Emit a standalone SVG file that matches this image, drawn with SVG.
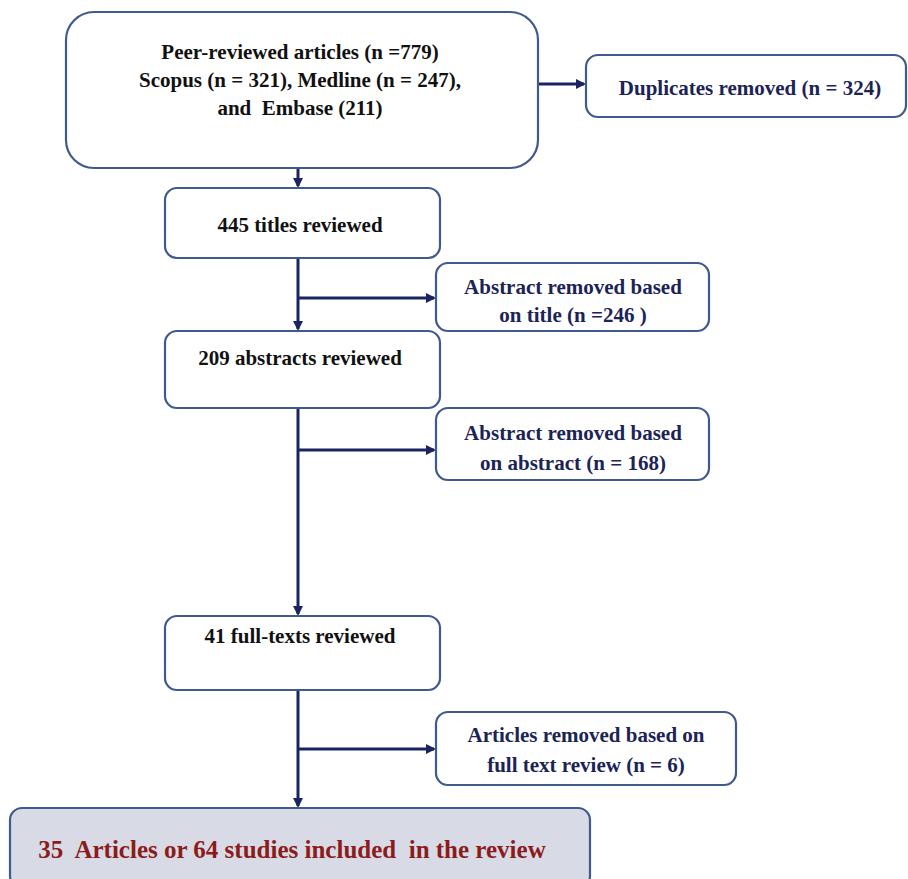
<svg xmlns="http://www.w3.org/2000/svg" width="908" height="879" viewBox="0 0 908 879">
<defs>
<marker id="ah" markerWidth="10" markerHeight="10" refX="8" refY="5" orient="auto" markerUnits="userSpaceOnUse">
<path d="M0,0 L10,5 L0,10 z" fill="#1b2461"/>
</marker>
<style>
.box{fill:#fff;stroke:#3f5a8c;stroke-width:2.2}
.fin{fill:#d8dbe6;stroke:#3f5a8c;stroke-width:2.2}
.t{font-family:"Liberation Serif","Times New Roman",serif;font-weight:bold;font-size:21px;text-anchor:middle;white-space:pre}
.k{fill:#111}
.n{fill:#1c2456}
.r{fill:#8c1b1b;font-size:25px}
.c{stroke:#1b2461;stroke-width:3;fill:none}
</style>
</defs>
<rect width="908" height="879" fill="#fff"/>
<g id="connectors">
<line class="c" x1="538" y1="84" x2="584" y2="84" marker-end="url(#ah)"/>
<line class="c" x1="298" y1="168" x2="298" y2="186" marker-end="url(#ah)"/>
<line class="c" x1="298" y1="258" x2="298" y2="329" marker-end="url(#ah)"/>
<line class="c" x1="298" y1="298" x2="434" y2="298" marker-end="url(#ah)"/>
<line class="c" x1="298" y1="408" x2="298" y2="614" marker-end="url(#ah)"/>
<line class="c" x1="298" y1="450" x2="434" y2="450" marker-end="url(#ah)"/>
<line class="c" x1="298" y1="690" x2="298" y2="806" marker-end="url(#ah)"/>
<line class="c" x1="298" y1="749" x2="434" y2="749" marker-end="url(#ah)"/>
</g>
<g id="n-sources">
<rect class="box" x="66" y="12" width="472" height="156" rx="28"/>
<text class="t k" x="300" y="59">Peer-reviewed articles (n =779)</text>
<text class="t k" x="300" y="87">Scopus (n = 321), Medline (n = 247),</text>
<text class="t k" x="300" y="115">and  Embase (211)</text>
</g>
<g id="n-duplicates">
<rect class="box" x="586" y="55" width="320" height="62" rx="12"/>
<text class="t n" x="750" y="95">Duplicates removed (n = 324)</text>
</g>
<g id="n-titles">
<rect class="box" x="165" y="188" width="275" height="70" rx="12"/>
<text class="t k" x="300" y="232">445 titles reviewed</text>
</g>
<g id="n-rm-title">
<rect class="box" x="436" y="263" width="273" height="68" rx="12"/>
<text class="t n" x="573" y="294">Abstract removed based</text>
<text class="t n" x="573" y="322">on title (n =246 )</text>
</g>
<g id="n-abstracts">
<rect class="box" x="165" y="331" width="275" height="77" rx="12"/>
<text class="t k" x="300" y="365">209 abstracts reviewed</text>
</g>
<g id="n-rm-abstract">
<rect class="box" x="436" y="408" width="273" height="72" rx="12"/>
<text class="t n" x="573" y="440">Abstract removed based</text>
<text class="t n" x="573" y="470">on abstract (n = 168)</text>
</g>
<g id="n-fulltexts">
<rect class="box" x="165" y="616" width="275" height="74" rx="12"/>
<text class="t k" x="300" y="643">41 full-texts reviewed</text>
</g>
<g id="n-rm-full">
<rect class="box" x="436" y="712" width="300" height="73" rx="12"/>
<text class="t n" x="586" y="742">Articles removed based on</text>
<text class="t n" x="586" y="772">full text review (n = 6)</text>
</g>
<g id="n-included">
<rect class="fin" x="10" y="808" width="580" height="80" rx="12"/>
<text class="t r" x="292" y="858">35  Articles or 64 studies included  in the review</text>
</g>
</svg>
